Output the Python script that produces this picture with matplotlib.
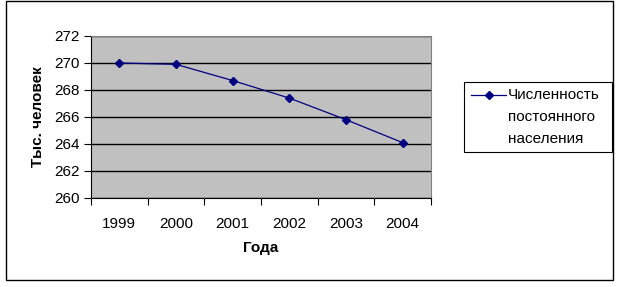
import numpy as np
import matplotlib.pyplot as plt
from matplotlib.patches import Rectangle
from matplotlib.lines import Line2D

plt.rcParams['font.family'] = ['Liberation Sans', 'DejaVu Sans']

years = ['1999', '2000', '2001', '2002', '2003', '2004']
population = [270.0, 269.9, 268.7, 267.4, 265.8, 264.1]
series_label = ['Численность', 'постоянного', 'населения']

fig = plt.figure(figsize=(6.24, 2.87), dpi=100)
# outer chart frame
fig.patches.append(Rectangle((6/624, 7/287), 607/624, 279/287, transform=fig.transFigure,
                             fill=False, edgecolor='black', linewidth=1))

ax = fig.add_axes([91/624, 1 - 198/287, 340/624, 162/287])
ax.set_facecolor('#c0c0c0')
x = np.arange(len(years))
ax.plot(x, population, color='#000080', linewidth=0.9, marker='D', markersize=4.5, zorder=3)

ax.set_xlim(-0.5, len(years) - 0.5)
ax.set_ylim(260, 272)
ax.set_yticks(np.arange(260, 273, 2))
ax.set_xticks(np.arange(-0.5, len(years), 1))
ax.set_xticklabels([])
ax.set_xticks(x, minor=True)
ax.set_xticklabels(years, minor=True)
ax.tick_params(axis='x', which='minor', length=0, pad=14, labelsize=11)
ax.tick_params(axis='x', which='major', length=5, direction='out')
ax.tick_params(axis='y', length=5, direction='out', labelsize=11, pad=3)
ax.yaxis.grid(True, color='black', linewidth=1)
ax.set_axisbelow(True)
for s in ['top', 'right']:
    ax.spines[s].set_color('#808080')

ax.set_xlabel('Года', fontsize=11, fontweight='bold', labelpad=7)
ax.set_ylabel('Тыс. человек', fontsize=11, fontweight='bold', labelpad=7)

# legend drawn by hand so the marker sits on the first text line
fig.patches.append(Rectangle((464/624, 1 - 152/287), 148/624, 70/287, transform=fig.transFigure,
                             fill=False, edgecolor='black', linewidth=0.8))
fig.lines.append(Line2D([471/624, 506/624], [1 - 95/287, 1 - 95/287], transform=fig.transFigure,
                        color='#000080', linewidth=0.9))
fig.lines.append(Line2D([488.5/624], [1 - 95/287], transform=fig.transFigure,
                        color='#000080', marker='D', markersize=4.5))
for i, line in enumerate(series_label):
    fig.text(508/624, 1 - (95 + 22 * i)/287, line, fontsize=11, va='center', ha='left')

fig.savefig('out.png', dpi=100)
